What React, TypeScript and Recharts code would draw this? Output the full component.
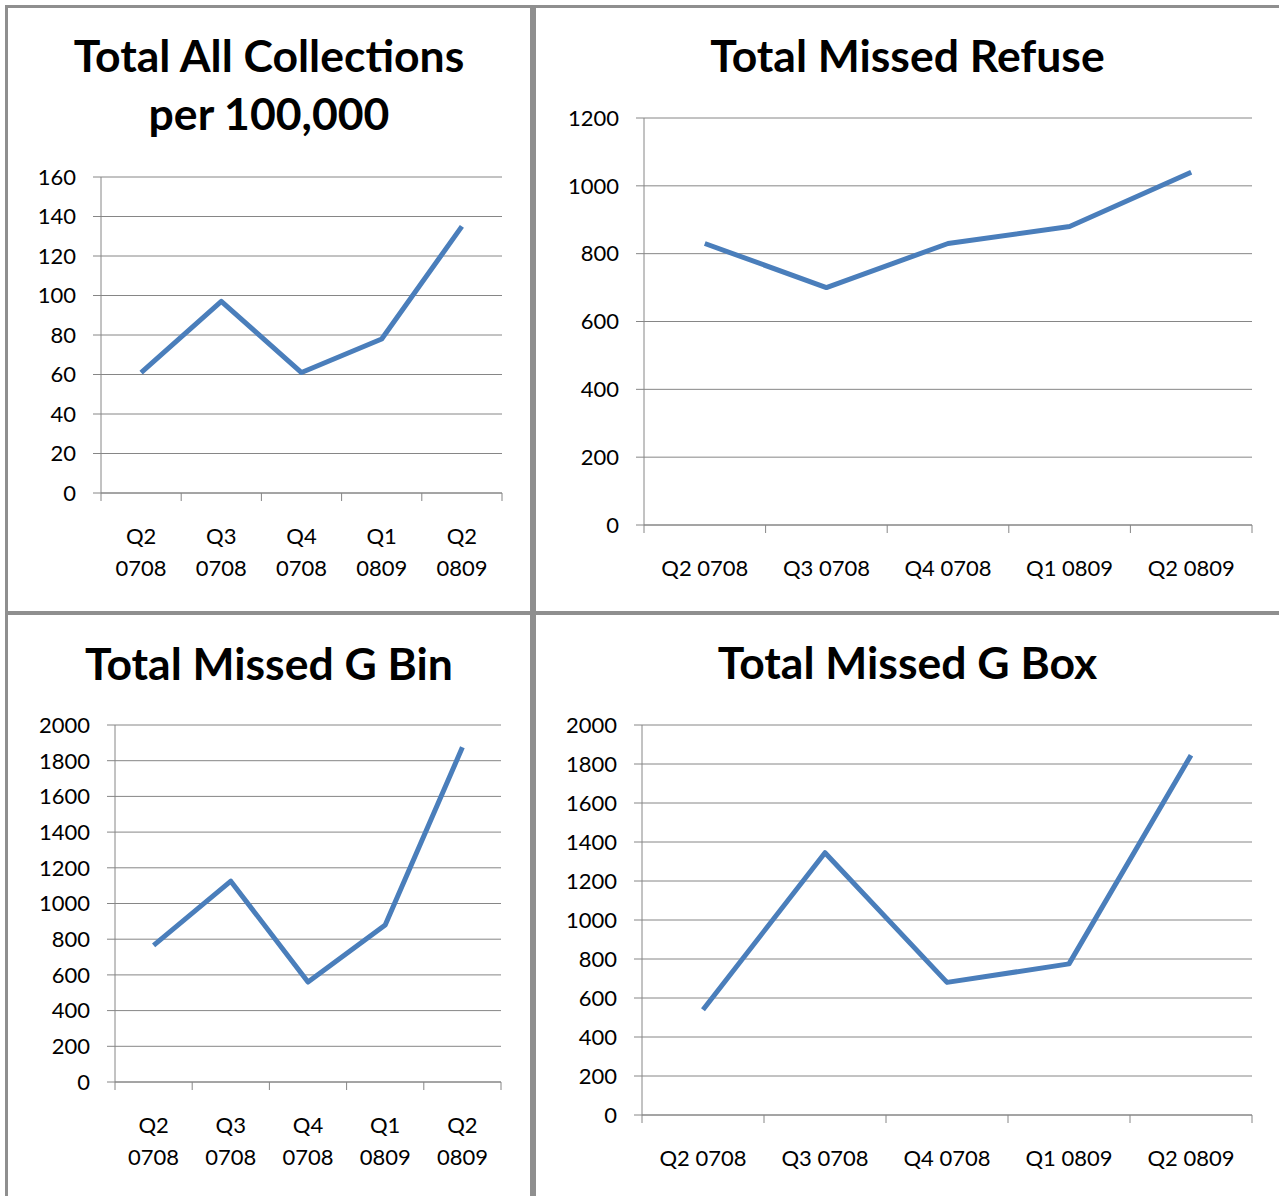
import React from 'react'
import { LineChart, Line, XAxis, YAxis, CartesianGrid } from 'recharts'

const quarters = ['Q2 0708', 'Q3 0708', 'Q4 0708', 'Q1 0809', 'Q2 0809']

const allCollections = [61, 97, 61, 78, 135]
const missedRefuse = [830, 700, 830, 880, 1040]
const missedGBin = [765, 1125, 560, 880, 1875]
const missedGBox = [540, 1345, 680, 775, 1845]

const ticks160 = [0, 20, 40, 60, 80, 100, 120, 140, 160]
const ticks1200 = [0, 200, 400, 600, 800, 1000, 1200]
const ticks2000 = [0, 200, 400, 600, 800, 1000, 1200, 1400, 1600, 1800, 2000]

const BLUE = '#4a7ebb'
const GRID = '#868686'
const BORDER = '#8f8f8f'
const FONT = "Lato, 'Open Sans', sans-serif"

const Y_AXIS_W = 90
const M_TOP = 20
const M_RIGHT = 12
const X_AXIS_H = 90
const TICK_LEN = 8

const toRows = (values: number[]) => quarters.map((q, i) => ({ name: q, value: values[i] }))

// category label plus Excel-style tick marks between the categories
function QuarterTick(props: any) {
    const { x, y, payload, index, wrap } = props
    const half = payload.offset || 0
    const parts = wrap ? String(payload.value).split(' ') : [String(payload.value)]
    const last = index === quarters.length - 1
    return (
        <g>
            <line x1={x - half} x2={x - half} y1={y} y2={y + TICK_LEN} stroke={GRID} />
            {last && <line x1={x + half} x2={x + half} y1={y} y2={y + TICK_LEN} stroke={GRID} />}
            <text x={x} textAnchor="middle" fill="#000" fontSize={22} fontFamily={FONT}>
                {parts.map((p: string, i: number) => (
                    <tspan key={i} x={x} y={y + 51 + i * 32}>{p}</tspan>
                ))}
            </text>
        </g>
    )
}

interface PanelProps {
    box: { left: number; top: number; width: number; height: number }
    title: string[]
    titleBaseline: number
    values: number[]
    yTicks: number[]
    plot: { left: number; right: number; top: number; bottom: number }
    wrap: boolean
}

function Panel({ box, title, titleBaseline, values, yTicks, plot, wrap }: PanelProps) {
    const rows = toRows(values)
    const width = plot.right - plot.left + Y_AXIS_W + M_RIGHT
    const height = plot.bottom - plot.top + M_TOP + X_AXIS_H
    return (
        <>
            <div
                style={{
                    position: 'absolute',
                    left: box.left,
                    top: box.top,
                    width: box.width,
                    height: box.height,
                    border: `3px solid ${BORDER}`,
                    boxSizing: 'border-box',
                }}
            />
            <svg
                style={{ position: 'absolute', left: box.left, top: box.top }}
                width={box.width}
                height={150}
            >
                {title.map((line, i) => (
                    <text
                        key={i}
                        x={box.width / 2}
                        y={titleBaseline - box.top + i * 58}
                        textAnchor="middle"
                        fontFamily={FONT}
                        fontWeight={700}
                        fontSize={44.5}
                        fill="#000"
                    >
                        {line}
                    </text>
                ))}
            </svg>
            <div style={{ position: 'absolute', left: plot.left - Y_AXIS_W, top: plot.top - M_TOP }}>
                <LineChart
                    width={width}
                    height={height}
                    data={rows}
                    margin={{ top: M_TOP, right: M_RIGHT, bottom: 0, left: 0 }}
                >
                    <CartesianGrid vertical={false} stroke={GRID} />
                    <XAxis
                        dataKey="name"
                        scale="band"
                        stroke={GRID}
                        tickLine={false}
                        tickSize={0}
                        tickMargin={0}
                        interval={0}
                        height={X_AXIS_H}
                        tick={<QuarterTick wrap={wrap} />}
                    />
                    <YAxis
                        domain={[0, yTicks[yTicks.length - 1]]}
                        ticks={yTicks}
                        interval={0}
                        width={Y_AXIS_W}
                        tickSize={TICK_LEN}
                        tickMargin={17}
                        stroke={GRID}
                        tick={{ fill: '#000', fontSize: 22, fontFamily: FONT }}
                    />
                    <Line
                        type="linear"
                        dataKey="value"
                        stroke={BLUE}
                        strokeWidth={5}
                        strokeLinejoin="round"
                        dot={false}
                        isAnimationActive={false}
                    />
                </LineChart>
            </div>
        </>
    )
}

export default function App() {
    return (
        <div
            style={{
                position: 'absolute',
                left: 0,
                top: 0,
                width: 1279,
                height: 1196,
                overflow: 'hidden',
                background: '#fff',
                fontFamily: FONT,
            }}
        >
            <Panel
                box={{ left: 5, top: 5, width: 528, height: 609 }}
                title={['Total All Collections', 'per 100,000']}
                titleBaseline={72}
                values={allCollections}
                yTicks={ticks160}
                plot={{ left: 101, right: 502, top: 177, bottom: 493 }}
                wrap
            />
            <Panel
                box={{ left: 533, top: 5, width: 749, height: 609 }}
                title={['Total Missed Refuse']}
                titleBaseline={72}
                values={missedRefuse}
                yTicks={ticks1200}
                plot={{ left: 644, right: 1252, top: 118, bottom: 525 }}
                wrap={false}
            />
            <Panel
                box={{ left: 5, top: 612, width: 528, height: 600 }}
                title={['Total Missed G Bin']}
                titleBaseline={680}
                values={missedGBin}
                yTicks={ticks2000}
                plot={{ left: 115, right: 501, top: 725, bottom: 1082 }}
                wrap
            />
            <Panel
                box={{ left: 533, top: 612, width: 749, height: 600 }}
                title={['Total Missed G Box']}
                titleBaseline={679}
                values={missedGBox}
                yTicks={ticks2000}
                plot={{ left: 642, right: 1252, top: 725, bottom: 1115 }}
                wrap={false}
            />
        </div>
    )
}
